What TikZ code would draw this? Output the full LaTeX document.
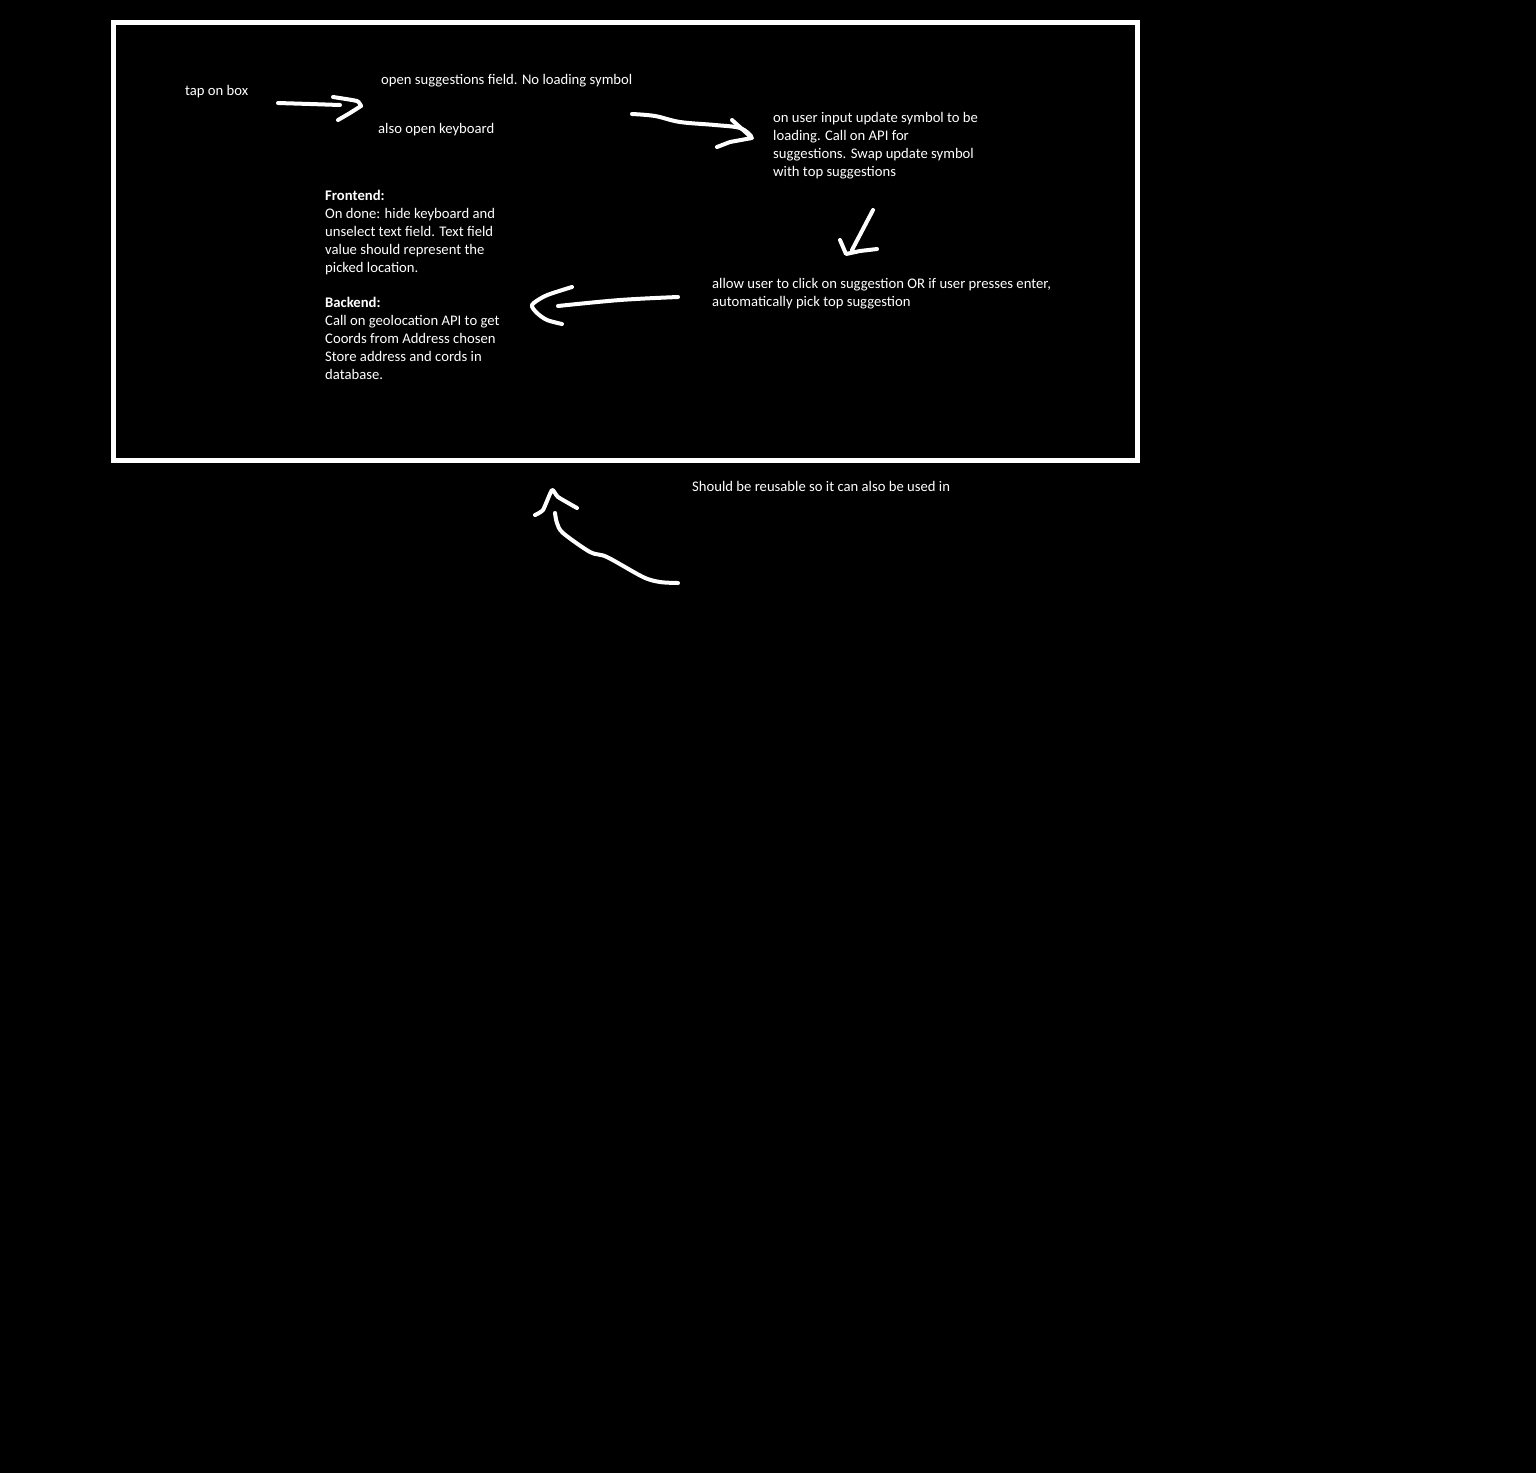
\documentclass[tikz,border=0pt]{standalone}
\usepackage{fontspec}
\setmainfont{Carlito}
\usetikzlibrary{positioning}

\tikzset{
  note/.style={anchor=base west,inner sep=0pt,text=white,align=left,
    font=\fontsize{14.67}{18}\selectfont},
  pen/.style={draw=white,line width=4pt,line cap=round,line join=round},
}

\begin{document}
\begin{tikzpicture}[x=1pt,y=-1pt]
\fill[black] (0,0) rectangle (1536,1473);
\useasboundingbox (0,0) rectangle (1536,1473);

% Frame
\draw[white,line width=5pt] (113.5,22.5) rectangle (1137.5,460.5);

% Notes (base = last line)
\node[note] (tap) at (185,95) {tap on box};
\node[note] (field) at (381,84) {open suggestions field. No loading symbol};
\node[note] (keys) at (378,133) {also open keyboard};
\node[note] (input) at (773,176) {on user input update symbol to be\\loading. Call on API for\\suggestions. Swap update symbol\\with top suggestions};
\node[note] (pick) at (712,306) {allow user to click on suggestion OR if user presses enter,\\automatically pick top suggestion};
\node[note] (done) at (325,379) {\textbf{Frontend:}\\On done: hide keyboard and\\unselect text field. Text field\\value should represent the\\picked location.\\[17pt]\textbf{Backend:}\\Call on geolocation API to get\\Coords from Address chosen\\Store address and cords in\\database.};
\node[note] (reuse) at (692,491) {Should be reusable so it can also be used in};

% tap -> field
\draw[pen] plot[smooth,tension=0.6] coordinates {(278,103) (310,104) (340,105)};
\draw[pen] plot[smooth,tension=0.3] coordinates {(333,97) (357,101) (361,106)};
\draw[pen] plot[smooth,tension=0.3] coordinates {(361,106) (350,113) (338,120)};

% field -> input
\draw[pen] plot[smooth,tension=0.6] coordinates {(632,114) (655,116) (680,122) (715,125) (740,128) (751,136)};
\draw[pen] (732,120) -- (752,138) -- (730,142) -- (717,147);

% input -> pick
\draw[pen] (873,210) -- (852,250);
\draw[pen] (840,240) -- (846,254) -- (860,251) -- (877,249);

% pick -> done
\draw[pen] plot[smooth,tension=0.6] coordinates {(678,297) (620,300) (558,306)};
\draw[pen] plot[smooth,tension=0.5] coordinates {(572,287) (553,293) (543,297) (532,305) (537,313) (547,320) (562,324)};

% reuse -> frame
\draw[pen] plot[smooth,tension=0.5] coordinates {(678,583) (660,582) (643,577) (607,557) (590,552) (563,533) (557,523) (555,513)};
\draw[pen] plot[smooth,tension=0.3] coordinates {(535,515) (543,510) (552,490) (558,497) (577,508)};
\end{tikzpicture}
\end{document}
